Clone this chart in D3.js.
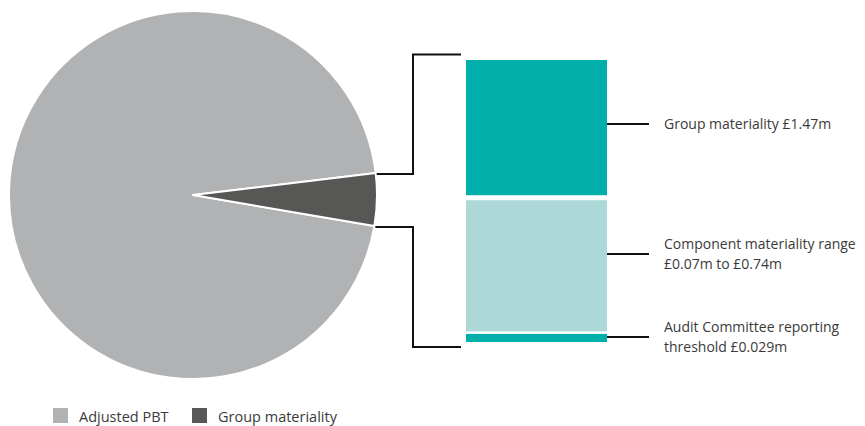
<!DOCTYPE html>
<html>
<head>
<meta charset="utf-8">
<script src="https://cdn.jsdelivr.net/npm/d3@7"></script>
<style>
  body { margin: 0; background: #fff; }
  svg text { font-family: "Open Sans", "Lato", sans-serif; fill: #3a3a3a; font-weight: 400; }
</style>
</head>
<body>
<script>
// pie data (£m)
var pieLabels = ["Adjusted PBT", "Group materiality"];
var pieValues = [30.5, 1.47];
var pieColors = ["#b1b2b4", "#575756"];

// stacked breakdown bar (drawn extents, not to scale)
var barLabels = [
    ["Group materiality £1.47m"],
    ["Component materiality range", "£0.07m to £0.74m"],
    ["Audit Committee reporting", "threshold £0.029m"]
];
var barValues = [1.47, 1.44, 0.1];
var barColors = ["#00afaa", "#acd8d7", "#00afaa"];

var svgWidth = 865;
var svgHeight = 426;

var svg = d3.select("body")
        .append("svg")
        .attr("width", svgWidth)
        .attr("height", svgHeight);

// ---- pie
var cx = 193, cy = 195, radius = 184;
var startDeg = 99.7;

var pie = d3.pie()
        .sort(null)
        .startAngle(startDeg * Math.PI / 180)
        .endAngle((startDeg + 360) * Math.PI / 180);

var arc = d3.arc()
        .innerRadius(0)
        .outerRadius(radius);

var arcs = pie(pieValues);

svg.append("g")
        .attr("transform", "translate(" + cx + "," + cy + ")")
        .selectAll("path")
        .data(arcs)
        .enter()
        .append("path")
        .attr("d", arc)
        .attr("fill", function (d, i) { return pieColors[i]; })
        .attr("stroke", "#fff")
        .attr("stroke-width", 2)
        .attr("stroke-linejoin", "round");

// ---- stacked bar
var barX = 466, barW = 141;
var yScale = d3.scaleLinear()
        .domain([0, d3.sum(barValues)])
        .range([60, 342]);

var gaps = [5, 2.5];
var cum = 0;
var segs = barValues.map(function (v, i) {
    var s = {y0: yScale(cum), y1: yScale(cum + v), i: i};
    cum += v;
    return s;
});
segs.forEach(function (s, i) {
    if (i > 0) s.y0 += gaps[i - 1] / 2;
    if (i < segs.length - 1) s.y1 -= gaps[i] / 2;
});

svg.append("g")
        .selectAll("rect")
        .data(segs)
        .enter()
        .append("rect")
        .attr("x", barX)
        .attr("y", function (d) { return d.y0; })
        .attr("width", barW)
        .attr("height", function (d) { return d.y1 - d.y0; })
        .attr("fill", function (d) { return barColors[d.i]; });

// ---- bracket connecting the slice to the bar
var slice = arcs[1];
var angTop = slice.startAngle - Math.PI / 2;
var angBot = slice.endAngle - Math.PI / 2;
var topPt = [cx + radius * Math.cos(angTop), cy + radius * Math.sin(angTop)];
var botPt = [cx + radius * Math.cos(angBot), cy + radius * Math.sin(angBot)];
var bracketX = 413, bracketEnd = 461;

var line = d3.line();
svg.append("path")
        .attr("d", line([[topPt[0] + 1, topPt[1] + 1], [bracketX, topPt[1] + 1], [bracketX, 54.5], [bracketEnd, 54.5]]))
        .attr("fill", "none")
        .attr("stroke", "#111")
        .attr("stroke-width", 2);
svg.append("path")
        .attr("d", line([[botPt[0] + 1, botPt[1] + 1], [bracketX, botPt[1] + 1], [bracketX, 347], [bracketEnd, 347]]))
        .attr("fill", "none")
        .attr("stroke", "#111")
        .attr("stroke-width", 2);

// ---- leader lines and labels
var leaderY = [124, 254, 337];
barLabels.forEach(function (lines, i) {
    svg.append("line")
            .attr("x1", barX + barW)
            .attr("x2", 649)
            .attr("y1", leaderY[i])
            .attr("y2", leaderY[i])
            .attr("stroke", "#111")
            .attr("stroke-width", 2);
    var t = svg.append("text")
            .attr("x", 664)
            .attr("y", leaderY[i] + 5 - (lines.length - 1) * 10)
            .attr("font-size", 14);
    lines.forEach(function (l, j) {
        t.append("tspan")
                .attr("x", 664)
                .attr("dy", j === 0 ? 0 : 20)
                .text(l);
    });
});

// ---- legend
var legendX = [53, 192];
var legend = svg.append("g");
pieLabels.forEach(function (l, i) {
    legend.append("rect")
            .attr("x", legendX[i])
            .attr("y", 408)
            .attr("width", 15)
            .attr("height", 15)
            .attr("fill", pieColors[i]);
    legend.append("text")
            .attr("x", legendX[i] + 26)
            .attr("y", 422)
            .attr("font-size", 14.5)
            .text(l);
});
</script>
</body>
</html>
